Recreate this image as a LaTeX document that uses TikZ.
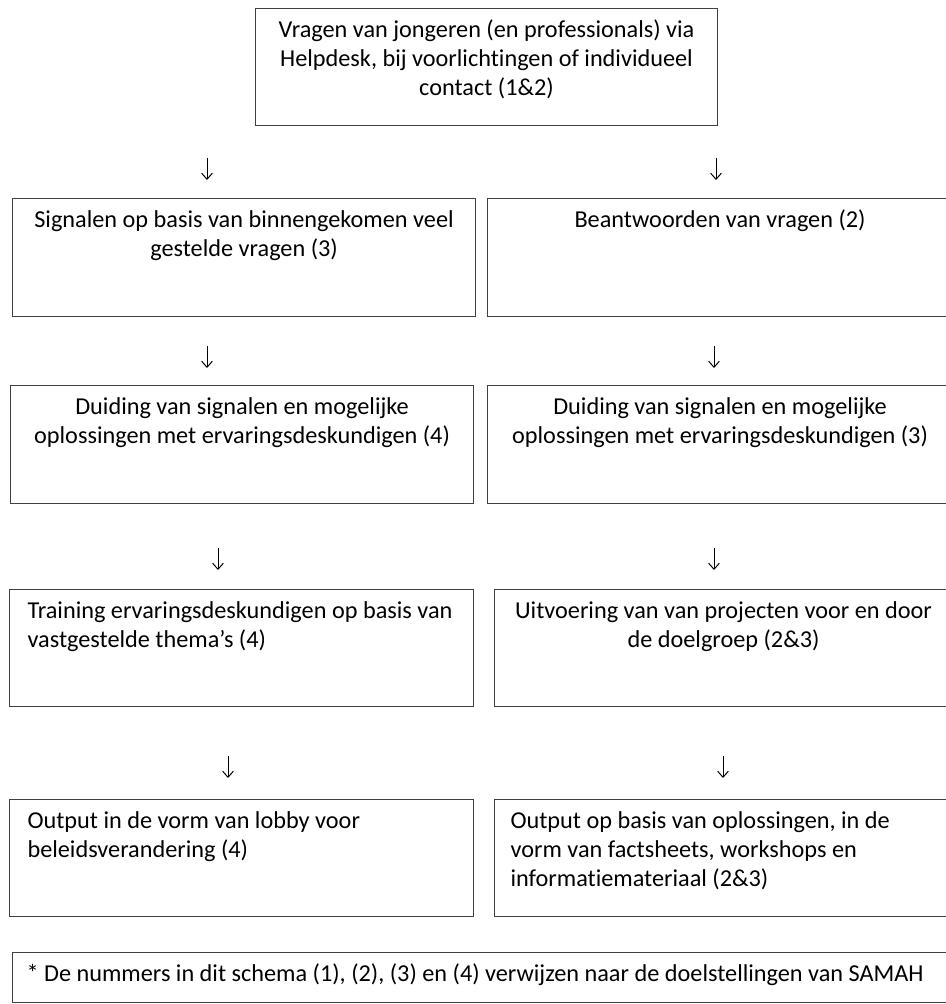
\documentclass[tikz,border=0pt]{standalone}
\usepackage{fontspec}
\setmainfont[Ligatures=NoCommon]{Carlito}
\usetikzlibrary{arrows.meta}
\newcommand{\boxcontent}[4]{%
  \begin{minipage}[t][\dimexpr #2pt*3/4\relax][t]{\dimexpr #1pt*3/4\relax}%
  \fontsize{18.2}{21.8}\selectfont #3\rule{0pt}{21.5pt}#4\par
  \end{minipage}}
\tikzset{
  flowbox/.style={draw=black!75, line width=0.8pt, inner sep=0pt, anchor=north west, text=black},
  downarrow/.style={line width=0.75pt, -{Straight Barb[length=4.5pt,width=8pt]}}
}
\begin{document}
\begin{tikzpicture}[x=0.75pt,y=-0.75pt]
\clip (0,0) rectangle (946,1004);
\fill[white] (0,0) rectangle (946,1004);
% top
\node[flowbox] (T) at (255,8) {\boxcontent{462}{117}{\centering}{Vragen van jongeren (en professionals) via\\Helpdesk, bij voorlichtingen of individueel\\contact (1\&2)}};
% row 1
\node[flowbox] (L1) at (12,198) {\boxcontent{463}{118}{\centering}{Signalen op basis van binnengekomen veel\\gestelde vragen (3)}};
\node[flowbox] (R1) at (487,198) {\boxcontent{465}{118}{\centering}{Beantwoorden van vragen (2)}};
% row 2
\node[flowbox] (L2) at (10,385) {\boxcontent{463}{118}{\centering}{Duiding van signalen en mogelijke\\oplossingen met ervaringsdeskundigen (4)}};
\node[flowbox] (R2) at (487,385) {\boxcontent{465}{118}{\centering}{Duiding van signalen en mogelijke\\oplossingen met ervaringsdeskundigen (3)}};
% row 3
\node[flowbox] (L3) at (9,589) {\boxcontent{464}{117}{\raggedright\leftskip=13.5pt}{Training ervaringsdeskundigen op basis van\\vastgestelde thema’s (4)}};
\node[flowbox] (R3) at (494,589) {\boxcontent{458}{117}{\centering}{Uitvoering van van projecten voor en door\\de doelgroep (2\&3)}};
% row 4
\node[flowbox] (L4) at (9,799) {\boxcontent{464}{117}{\raggedright\leftskip=13.5pt}{Output in de vorm van lobby voor\\beleidsverandering (4)}};
\node[flowbox] (R4) at (494,799) {\boxcontent{458}{117}{\raggedright\leftskip=12pt}{Output op basis van oplossingen, in de\\vorm van factsheets, workshops en\\informatiemateriaal (2\&3)}};
% footer
\node[flowbox] (F) at (12,952) {\boxcontent{940}{50}{\raggedright\leftskip=10.5pt}{* De nummers in dit schema (1), (2), (3) en (4) verwijzen naar de doelstellingen van SAMAH}};
% arrows
\coordinate (a1ls) at (207,158); \coordinate (a1le) at (207,180);
\coordinate (a1rs) at (716,158); \coordinate (a1re) at (716,180);
\coordinate (a2ls) at (207,346); \coordinate (a2le) at (207,368);
\coordinate (a2rs) at (714,346); \coordinate (a2re) at (714,368);
\coordinate (a3ls) at (218,548); \coordinate (a3le) at (218,570);
\coordinate (a3rs) at (714,548); \coordinate (a3re) at (714,570);
\coordinate (a4ls) at (228,756); \coordinate (a4le) at (228,778);
\coordinate (a4rs) at (723,756); \coordinate (a4re) at (723,778);
\draw[downarrow] (a1ls) -- (a1le);
\draw[downarrow] (a1rs) -- (a1re);
\draw[downarrow] (a2ls) -- (a2le);
\draw[downarrow] (a2rs) -- (a2re);
\draw[downarrow] (a3ls) -- (a3le);
\draw[downarrow] (a3rs) -- (a3re);
\draw[downarrow] (a4ls) -- (a4le);
\draw[downarrow] (a4rs) -- (a4re);
\end{tikzpicture}
\end{document}
